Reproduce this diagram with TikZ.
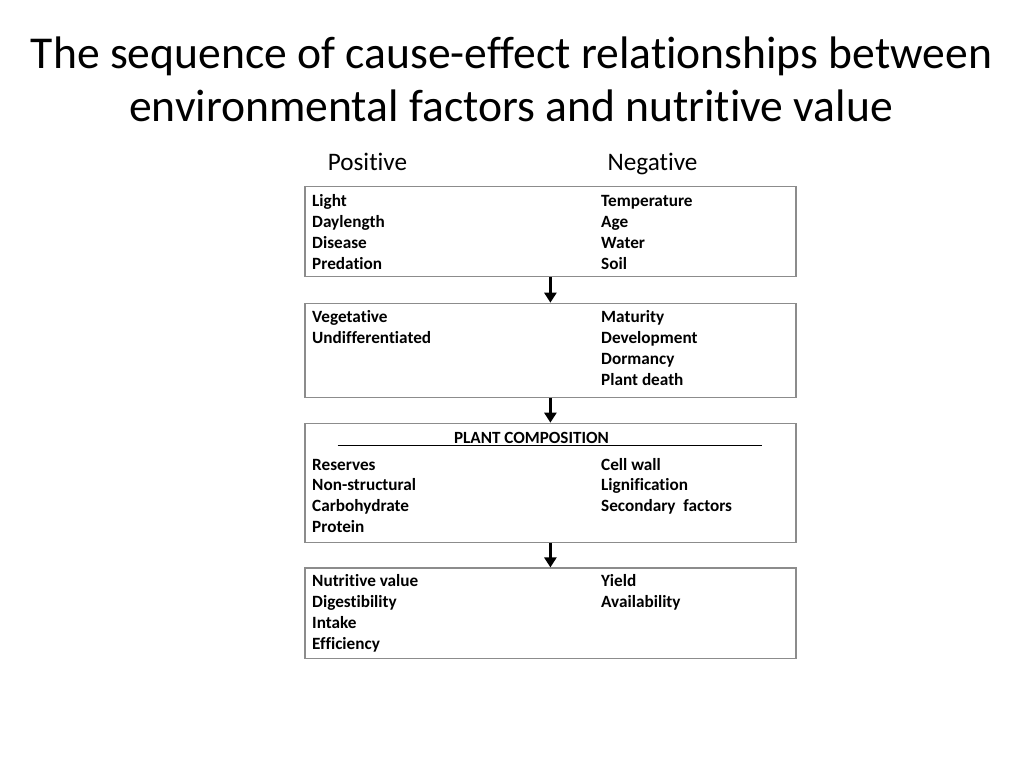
\documentclass[tikz,border=0pt]{standalone}
\usepackage{fontspec}
\setmainfont[Ligatures=NoCommon]{Carlito}
\usetikzlibrary{arrows.meta}
\tikzset{
  box/.style={draw=black!45, line width=1.3pt, minimum width=491pt, inner sep=0pt},
  item/.style={anchor=base west, inner sep=0pt, font=\bfseries\fontsize{17.2}{20}\selectfont},
  head/.style={anchor=base, inner sep=0pt, font=\fontsize{25.2}{30}\selectfont},
  title/.style={anchor=base, inner sep=0pt, font=\fontsize{45.6}{54}\selectfont},
  flow/.style={line width=3pt, -{Triangle[width=12pt,length=10pt]}},
  rule/.style={line width=0.9pt, black}
}
\newcommand\colitems[4]{%
  \foreach \t [count=\i from 0] in {#4} {\node[item] (#1\i) at (#2,{-(#3+20.8*\i)}) {\t};}}
\begin{document}
\begin{tikzpicture}[x=1pt,y=1pt]
\useasboundingbox (0,0) rectangle (1024,-768);
\fill[white] (0,0) rectangle (1024,-768);
\node[title] (t1) at (511.5,-68.3) {The sequence of cause-effect relationships between};
\node[title] (t2) at (511,-121.7) {environmental factors and nutritive value};
\node[head] (pos) at (367.5,-170.7) {Positive};
\node[head] (neg) at (652.5,-170.7) {Negative};
% boxes
\node[box, minimum height=90pt] (b1) at (550.4,-231.7) {};
\node[box, minimum height=94pt] (b2) at (550.4,-350.3) {};
\node[box, minimum height=119pt] (b3) at (550.4,-482.8) {};
\node[box, minimum height=90.3pt] (b4) at (550.4,-613.2) {};
% arrows
\draw[flow] (b1.south) -- (b2.north);
\draw[flow] (b2.south) -- (b3.north);
\draw[flow] (b3.south) -- (b4.north);
% box 1
\colitems{a}{312}{206.7}{Light,Daylength,Disease,Predation}
\colitems{b}{601}{206.7}{Temperature,Age,Water,Soil}
% box 2
\colitems{c}{312}{322.8}{Vegetative,Undifferentiated}
\colitems{d}{601}{322.8}{Maturity,Development,Dormancy,Plant death}
% box 3
\node[item, anchor=base, font=\bfseries\fontsize{17.1}{20}\selectfont] (pc) at (531.5,-443.3) {PLANT COMPOSITION};
\coordinate (r1) at (337.7,-445.7);
\coordinate (r2) at (761.7,-445.7);
\draw[rule] (r1) -- (r2);
\colitems{e}{312}{470}{Reserves,Non-structural,Carbohydrate,Protein}
\colitems{f}{601}{470}{Cell wall,Lignification,Secondary\ \ factors}
% box 4
\colitems{g}{312}{586.7}{Nutritive value,Digestibility,Intake,Efficiency}
\colitems{h}{601}{586.7}{Yield,Availability}
\end{tikzpicture}
\end{document}
